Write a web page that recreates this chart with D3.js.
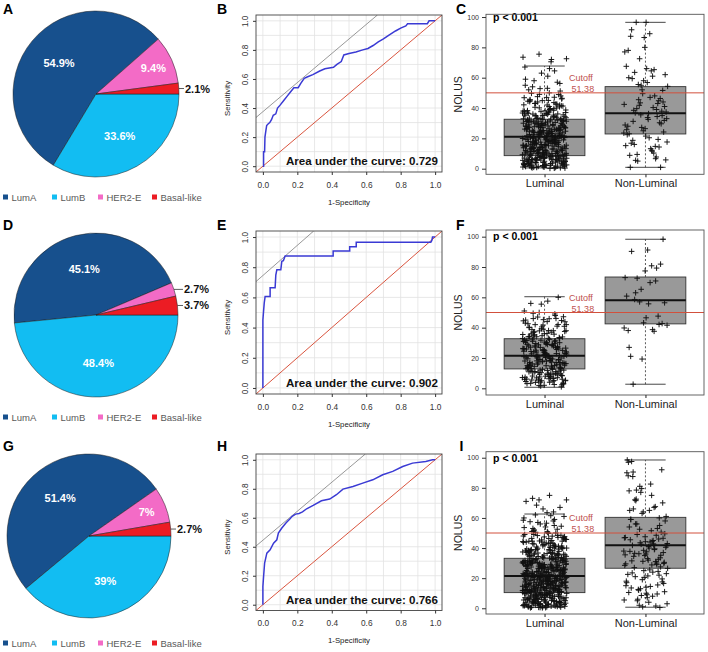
<!DOCTYPE html>
<html><head><meta charset="utf-8">
<script src="https://cdn.jsdelivr.net/npm/d3@7/dist/d3.min.js"></script>
<style>html,body{margin:0;padding:0;background:#fff;}svg{display:block;}</style>
</head><body>
<svg id="fig" width="708" height="652"></svg>
<script>
// ================= DATA =================
const categories = ["LumA", "LumB", "HER2-E", "Basal-like"];
const pieA = [54.9, 33.6, 9.4, 2.1];
const pieD = [45.1, 48.4, 2.7, 3.7];
const pieG = [51.4, 39, 7, 2.7];

const rocTicks = [0, 0.2, 0.4, 0.6, 0.8, 1.0];
const rocB = [[0,0],[0.004,0],[0.004,0.1],[0.01,0.1],[0.012,0.2],[0.018,0.25],[0.022,0.28],[0.03,0.29],[0.04,0.3],[0.05,0.32],[0.06,0.35],[0.075,0.36],[0.085,0.4],[0.1,0.42],[0.12,0.45],[0.14,0.48],[0.16,0.51],[0.18,0.54],[0.205,0.54],[0.22,0.57],[0.24,0.605],[0.26,0.615],[0.29,0.63],[0.33,0.655],[0.36,0.67],[0.41,0.68],[0.43,0.7],[0.455,0.72],[0.47,0.765],[0.5,0.775],[0.54,0.785],[0.58,0.8],[0.61,0.81],[0.64,0.83],[0.67,0.855],[0.7,0.875],[0.73,0.9],[0.77,0.93],[0.8,0.95],[0.83,0.965],[0.84,0.98],[0.955,0.98],[0.965,1],[1,1]];
const rocE = [[0,0],[0,0.45],[0.004,0.51],[0.008,0.565],[0.013,0.606],[0.042,0.606],[0.042,0.664],[0.071,0.664],[0.075,0.748],[0.081,0.783],[0.104,0.783],[0.11,0.84],[0.119,0.844],[0.129,0.874],[0.408,0.874],[0.408,0.908],[0.504,0.908],[0.504,0.936],[0.542,0.936],[0.542,0.966],[0.975,0.966],[0.981,0.977],[0.985,1],[1,1]];
const rocH = [[0,0],[0,0.126],[0.004,0.195],[0.01,0.287],[0.023,0.356],[0.042,0.379],[0.062,0.425],[0.081,0.448],[0.09,0.494],[0.11,0.529],[0.135,0.565],[0.155,0.59],[0.17,0.61],[0.19,0.625],[0.21,0.63],[0.23,0.64],[0.254,0.662],[0.292,0.685],[0.34,0.717],[0.388,0.729],[0.427,0.759],[0.465,0.798],[0.523,0.816],[0.58,0.839],[0.638,0.862],[0.696,0.897],[0.754,0.92],[0.812,0.954],[0.869,0.977],[0.946,0.989],[0.985,1],[1,1]];
const aucValues = ["0.729", "0.902", "0.766"];
const tangentIntercepts = [0.375, 0.745, 0.445];

const groups = ["Luminal", "Non-Luminal"];
const nolusTicks = [0, 20, 40, 60, 80, 100];
const cutoffLabel = "51.38";
const cutoffLineValue = 50;
const pValueText = "p < 0.001";

// box stats: [lower whisker, Q1, median, Q3, upper whisker]
const boxC_Luminal = [0.5, 8.6, 21.1, 32.6, 67.7];
const boxC_NonLuminal = [0.9, 22.9, 36.5, 54.1, 96.5];
const boxF_Luminal = [0.7, 12.8, 21.4, 32.7, 60.4];
const boxF_NonLuminal = [2.7, 42.5, 58, 73.4, 98.3];
const boxI_Luminal = [0.7, 10.4, 21.4, 33.2, 62.6];
const boxI_NonLuminal = [0.7, 26.6, 41.8, 60.4, 98.5];

const ptsC_Luminal = [3,17,28,9,41,0.5,22,35,12,6,30,19,47,2,25,14,38,8,21,33,
1,11,26,44,5,18,31,7,23,36,13,4,29,16,52,10,24,2.5,39,20,
6.5,27,15,34,0.8,21.5,42,9.5,32,17.5,3.5,25.5,11.5,46,7.5,19.5,30.5,1.5,37,23.5,
13.5,4.5,28.5,55,8.5,16.5,35.5,2,22.5,40,12.5,5.5,31.5,18,48,10.5,26.5,0.3,33.5,20.5,
61,3,14.5,29.5,7,24.5,43,9,19,36.5,1.2,27.5,15.5,50,6,22,32.5,11,38.5,17,
4,25,13,57,8,30,2.2,21,41.5,16,5,34.5,10,27,45,1,23,14,67,19,
6.8,31,12,3.8,26,49,9.2,18.5,36,0.6,24,15,39.5,7.2,28,53,11.2,20,33,2.8,
72,16.8,5.2,29,44.5,8.2,22.8,13.2,37.5,1.8,26.8,10.2,59,17.8,4.2,31.8,21.2,7.8,42.5,14.2,
73.5,3.2,24.2,12.8,35.2,6.2,19.2,47.5,0.4,28.2,9.8,15.8,63,2.4,23.2,40.5,11.8,30.2,5.8,18.2,
75.5,72.5,66,54,8.8,25.2,4.8,34.2,16.2,1.6,21.8,45.5,10.8,27.2,13.8,70.5,58,3.6,20.8,32.2,
0.7,12.3,24.7,36.9,5.1,18.4,29.8,9.7,21.9,43.1,2.9,15.3,27.1,33.9,7.3,19.9,39.1,11.3,25.9,4.1,
31.1,14.9,22.3,1.9,35.8,8.7,17.3,28.7,46.8,6.3,23.9,13.7,38.2,3.3,20.3,30.9,10.1,26.3,16.1,41.9,
2.1,27.9,12.9,34.7,7.9,19.1,44.2,5.3,24.9,15.1,32.7,0.9,21.3,9.3,37.3,17.1,29.3,4.7,22.7,13.1,
48.9,8.1,26.1,16.7,35.1,3.1,20.1,30.7,11.7,40.1,6.9,24.1,14.1,51.2,1.3,28.1,18.7,33.1,9.1,23.1,
15.7,36.1,5.7,42.1,19.7,27.7,12.1,2.7,31.7,22.1,10.7,38.7,17.7,6.1,25.1,44.9,14.7,29.1,3.9,20.7,
8.3,33.3,16.3,24.3,1.1,39.7,13.3,28.3,6.7,21.7,47.1,11.9,34.3,18.3,4.3,26.7,15.9,37.9,9.9,30.1,
23.7,2.3,17.9,42.7,12.7,31.3,7.1,25.3,56.2,14.3,19.3,35.3,5.9,27.3,10.3,45.1,1.7,22.3,32.9,16.9,
13.9,29.9,4.9,38.3,20.9,9.1,26.9,15.1,49.7,7.7,24.7,34.9,3.7,18.9,41.3,11.1,28.9,6.1,21.1,36.7,
0.2,17.2,32.4,10.4,25.6,43.6,5.6,14.4,30.8,20.4,8.4,37.6,2.6,23.4,16.4,46.4,12.4,27.6,4.4,19.6,
33.6,9.6,22.4,40.8,13.6,1.4,28.4,18.4,6.4,36.4,24.4,11.4,52.8,15.6,3.4,31.4,21.4,7.4,26.4,64.5];
const ptsC_NonLuminal = [36.3,91.6,14.3,52,28.8,61,5.5,44,96.5,23,39,72.5,17.6,47,31.2,0.9,58,25.7,65.3,9.4,
41,33.7,87.3,19.3,55,42.4,12.2,63.5,35,26.4,78,6.6,45.5,37.4,20.4,59.4,30.3,49.5,15.2,40.3,
96.5,24.2,66,8.8,34.4,43.4,54.3,13.2,38.5,29.6,86.5,22.4,48,5,62,32.5,16.8,44.8,27.2,77,
11.6,36.8,51.6,21.5,60,7.7,41.8,33,89,18.7,46.3,25,67.5,10.3,39.6,31.8,56.8,0.9,43,35.5,
23.5,64.5,16,37.9,80,28,14.7,55.5,5.8];
const ptsF_Luminal = [14,27,6,38,21,11,33,18,45,9,24,3,30,16,41,12,26,7,35,20,
2,29,15,47,23,10,36,19,5,32,13,42,25,8,28,17,50,22,4,31,
13.5,39,20.5,6.5,34,16.5,44,11.5,27.5,1.5,24.5,37,14.5,8.5,30.5,19.5,48,10.5,26.5,21.5,
5.5,33.5,17.5,43,12.5,29.5,3.5,22.5,40,15.5,7.5,35.5,18.5,46,9.5,25.5,31.5,2.5,20,37.5,
57.5,56,60,55.5,51,14,28,6,23,34,11,19,42,8,32,16,25,4.5,38,21,
12,30,17,7,27,44.5,10,24,1,36,15,49,22,5,33,13,26,40.5,18,29,
3.9,16.9,29.3,10.9,22.9,37.9,7.1,19.7,33.1,13.9,45.3,25.9,5.1,18.1,40.9,11.7,27.1,8.9,31.7,20.9,
14.7,35.3,2.3,23.7,42.6,9.7,28.7,16.3,6.3,38.7,21.7,12.3,30.3,4.7,25.1,47.2,17.9,34.1,10.1,19.1,
26.3,7.9,36.9,13.1,22.1,3.1,31.1,15.9,43.9,9.1,24.3,18.7,39.3,5.9,28.3,11.1,33.9,20.3,14.1,46.1,
1.9,23.3,32.3,8.1,17.1,41.7,12.9,27.9,6.9,21.1,36.1,15.1,26.9,4.1,30.9,19.9,10.7,44.7,24.9,13.3,
29.7,16.7,5.3,38.1,22.7,11.3,34.7,7.3,19.3,27.3,2.9,14.9,40.3,25.7,9.3,32.9,18.3,49.5,12.1,23.9,
6.1,35.7,20.7,15.3,28.9,3.3,42.1,10.3,26.1,17.3,37.3,8.3,22.3,13.7,31.3,4.9,24.1,45.9,16.1,30.1];
const ptsF_NonLuminal = [55.7,90.3,42.1,19.3,73,38.7,63,98.3,46.5,27,79.3,57,41.6,69.7,2.7,81.9,
43.2,60.8,37.6,72.6,56.4,91.2,21.1,47.6,65.3,39.8,80.8,58.6,42.7,77.4,38.1,70.8];
const ptsI_Luminal = [2,15,28,7,39,21,11,34,4,25,17,46,9,31,13,0.5,23,37,6,19,
29,12,42,3,26,16,35,8,22,49,14,5,32,18,1,27,10,40,20,30,
7.5,24,44,13.5,33,2.5,19.5,38,11.5,28.5,5.5,22.5,52,15.5,9.5,35.5,1.5,26.5,17.5,43,
31.5,4.5,21.5,12.5,36.5,8.5,47,24.5,16.5,3.5,29.5,10.5,40.5,20.5,0.8,33.5,14.5,55,6.5,25.5,
18.5,38.5,9,27.5,2.2,45,13,30.5,6,21,50,16,34.5,11,24,4,41.5,19,58,8,
26,14,32,1.2,22,48,10,36,17,5,29,12,57,20,3,39,15,27,7,33,
62,23,11.8,44.5,2.8,18.2,30.2,8.2,53,25.2,13.8,37.2,5.2,21.2,46.5,16.2,0.3,28.2,10.2,60,
34.2,19.2,6.8,42.2,24.2,13.2,3.2,31.2,15.2,51,22.2,9.2,38.2,17.2,4.2,27.2,56.5,11.2,35.2,20.2,
1.8,29.2,14.2,48.5,7.2,23.2,59,12.2,32.2,2.4,18.8,41.2,26.2,9.8,36.8,5.8,21.8,54,15.8,30.8,
72,72,75,73,67,66,71,64,68.5,61,63.5,57.5,25.8,8.8,43.8,17.8,3.8,33.8,12.8,28.8,
19.8,6.2,45.8,23.8,11.6,37.8,1.4,30.6,16.6,50.5,21.6,9.6,34.6,4.6,26.6,14.6,40.6,7.6,31.6,18.6,
2.6,24.6,13.6,47.6,20.6,8.6,35.6,15.6,53.6,27.6,5.6,39.6,22.6,10.6,32.6,0.6,29.6,17.6,44.6,12.6,
0.9,13.9,26.7,8.9,35.9,18.9,4.9,30.9,22.9,11.9,43.9,16.9,2.9,28.9,20.9,7.9,39.9,14.9,25.9,10.9,
33.9,5.9,19.9,47.9,12.9,24.9,1.9,37.9,17.9,29.9,9.9,21.9,42.9,3.9,27.9,15.9,32.9,6.9,23.9,50.9,
11.3,36.3,19.3,2.3,26.3,14.3,41.3,8.3,31.3,21.3,4.3,17.3,46.3,12.3,28.3,0.3,23.3,38.3,9.3,33.3,
16.3,6.3,29.3,20.3,44.3,13.3,3.3,25.3,35.3,10.3,18.3,48.3,1.3,27.3,15.3,39.3,7.3,22.3,32.3,11.3,
24.7,4.7,37.7,14.7,21.7,45.7,9.7,30.7,1.7,17.7,27.7,12.7,40.7,6.7,23.7,34.7,19.7,2.7,29.7,15.7,
42.7,10.7,26.7,5.7,20.7,36.7,13.7,49.7,0.7,24.7,16.7,31.7,8.7,38.7,22.7,3.7,28.7,18.7,44.7,11.7,
7.1,33.1,21.1,14.1,25.1,2.1,39.1,17.1,9.1,30.1,47.1,12.1,22.1,5.1,36.1,19.1,27.1,1.1,41.1,15.1,
29.1,10.1,23.1,4.1,34.1,18.1,43.1,8.1,26.1,13.1,37.1,20.1,3.1,31.1,16.1,51.5,11.1,24.1,6.1,40.1,
19.4,35.4,2.4,27.4,12.4,45.4,22.4,7.4,31.4,16.4,0.4,38.4,25.4,9.4,20.4,33.4,4.4,14.4,42.4,28.4,
11.4,24.4,5.4,36.4,18.4,48.4,13.4,30.4,1.4,22.4,40.4,8.4,26.4,15.4,34.4,3.4,21.4,46.4,10.4,29.4,
17.4,6.4,32.4,23.4,43.4,12.4,27.4,2.4,37.4,19.4,9.4,25.4,14.4,39.4,4.4,30.4,21.4,50.4,7.4,35.4,
16.9,1.6,28.6,11.6,44.6,20.6,6.6,33.6,24.6,13.6,38.6,3.6,18.6,26.6,9.6,41.6,15.6,31.6,0.9,22.6,
52.5,56,58.5,61.5,49,54.5,47.4,12,36,24,5,18,30,8,44,15,27,2,40,20];
const ptsI_NonLuminal = [41,97.5,22,63,35.5,8,56,46.5,14,78,30,52.5,3,44,90.5,27.5,38.5,17,67,49,
11,33,59,24.5,42.5,5.5,75,36.5,19.5,47.5,88,31,12,61,40,23.5,55,1,29.5,45,
72.5,16.5,37.5,65,9.5,43.5,26.5,82.5,34.5,50.5,20.5,98.5,39.5,6,58,32,13.5,46,79.5,28.5,
44.5,21,70,36,10.5,48.5,2,41.5,25.5,87.5,33.5,64,18,42,56,30.5,7,45.5,15.5,77,
38,51.5,27,92,35,22.5,67.5,12.5,40.5,4,31.5,60,19,47,24,71.5,37,10,54,29,
81,43,14.5,66,35.2,25,90,39,5,49.5,21.5,59,32.5,8.5,46.8,28.8,72,17.5,44.2,97,
1.5,36.2,23,65,41.8,0.5,31.2,15,42.8,78.5,29.8,9,37.8,53,13];

// ================= STYLE / LAYOUT =================
const FONT = "'Liberation Sans', Arial, Helvetica, sans-serif";
const pieColors = ["#17508d", "#12bdf2", "#f36bc6", "#ec1c24"];
const pieClockwiseOrder = ["LumB", "LumA", "HER2-E", "Basal-like"];
const legendX = [3, 52, 98, 152];

const rows = [
  { letters: ["A","B","C"], letterY: 14, letterX: [3, 217, 456],
    pie: pieA, pc: [96, 94], pr: 83, legendY: 197,
    roc: rocB, auc: aucValues[0], tan: tangentIntercepts[0], rocTop: 15, rocBottom: 172,
    boxTop: 14.3, boxBottom: 174.3, boxDomain: [-3.7, 101.8],
    stats: [boxC_Luminal, boxC_NonLuminal], pts: [ptsC_Luminal, ptsC_NonLuminal] },
  { letters: ["D","E","F"], letterY: 230, letterX: [3, 217, 456],
    pie: pieD, pc: [96, 315], pr: 82, legendY: 417,
    roc: rocE, auc: aucValues[1], tan: tangentIntercepts[1], rocTop: 231, rocBottom: 394,
    boxTop: 230, boxBottom: 395, boxDomain: [-4.4, 104.4],
    stats: [boxF_Luminal, boxF_NonLuminal], pts: [ptsF_Luminal, ptsF_NonLuminal] },
  { letters: ["G","H","I"], letterY: 451, letterX: [3, 217, 459.5],
    pie: pieG, pc: [89, 536], pr: 82, legendY: 643,
    roc: rocH, auc: aucValues[2], tan: tangentIntercepts[2], rocTop: 454, rocBottom: 610.5,
    boxTop: 451.7, boxBottom: 614, boxDomain: [-3.8, 104],
    stats: [boxI_Luminal, boxI_NonLuminal], pts: [ptsI_Luminal, ptsI_NonLuminal] }
];

const svg = d3.select("#fig");

function letter(t, x, y) {
  svg.append("text").attr("x", x).attr("y", y).attr("font-family", FONT)
    .attr("font-weight", "bold").attr("font-size", 14).attr("fill", "#000").text(t);
}

function drawPie(row) {
  const [cx, cy] = row.pc, r = row.pr;
  const g = svg.append("g").attr("transform", `translate(${cx},${cy})`);
  const data = categories.map((c, i) => ({ name: c, value: row.pie[i], color: pieColors[i] }));
  const pie = d3.pie().value(d => d.value)
    .sort((a, b) => pieClockwiseOrder.indexOf(a.name) - pieClockwiseOrder.indexOf(b.name))
    .startAngle(Math.PI / 2).endAngle(Math.PI / 2 + 2 * Math.PI);
  const arcs = pie(data);
  const arc = d3.arc().innerRadius(0).outerRadius(r);
  g.selectAll("path.slice").data(arcs).join("path").attr("class", "slice")
    .attr("d", arc).attr("fill", d => d.data.color).attr("stroke", "#1e1e1e").attr("stroke-width", 0.5);
  arcs.forEach(a => {
    const mid = (a.startAngle + a.endAngle) / 2;
    const label = a.data.value + "%";
    if (a.data.value >= 5) {
      const rr = r * (a.data.value > 20 ? 0.58 : 0.76);
      g.append("text").attr("x", rr * Math.sin(mid)).attr("y", -rr * Math.cos(mid))
        .attr("text-anchor", "middle").attr("dominant-baseline", "central")
        .attr("font-family", FONT).attr("font-weight", "bold").attr("font-size", 11)
        .attr("fill", "#fff").text(label);
    } else {
      const px = r * Math.sin(mid), py = -r * Math.cos(mid);
      g.append("line").attr("x1", px).attr("y1", py).attr("x2", r + 5).attr("y2", py)
        .attr("stroke", "#333").attr("stroke-width", 0.8);
      g.append("text").attr("x", r + 6).attr("y", py).attr("dominant-baseline", "central")
        .attr("font-family", FONT).attr("font-weight", "bold").attr("font-size", 11)
        .attr("fill", "#111").text(label);
    }
  });
  categories.forEach((c, i) => {
    const lx = legendX[i];
    svg.append("rect").attr("x", lx).attr("y", row.legendY - 2.5).attr("width", 5).attr("height", 5)
      .attr("fill", pieColors[i]);
    svg.append("text").attr("x", lx + 8.5).attr("y", row.legendY).attr("dominant-baseline", "central")
      .attr("font-family", FONT).attr("font-size", 9.5).attr("fill", "#595959").text(c);
  });
}

function drawRoc(row, idx) {
  const L = 256, R = 442, T = row.rocTop, B = row.rocBottom;
  const x = d3.scaleLinear().domain([-0.04, 1.04]).range([L, R]);
  const y = d3.scaleLinear().domain([-0.04, 1.04]).range([B, T]);
  const g = svg.append("g");
  const clipId = "rocclip" + idx;
  g.append("clipPath").attr("id", clipId).append("rect")
    .attr("x", L).attr("y", T).attr("width", R - L).attr("height", B - T);
  const grid = d3.range(0, 11).map(k => k / 10);
  g.selectAll("line.gv").data(grid).join("line").attr("class", "gv")
    .attr("x1", d => x(d)).attr("x2", d => x(d)).attr("y1", T).attr("y2", B)
    .attr("stroke", "#e2e2e2").attr("stroke-width", 0.8);
  g.selectAll("line.gh").data(grid).join("line").attr("class", "gh")
    .attr("y1", d => y(d)).attr("y2", d => y(d)).attr("x1", L).attr("x2", R)
    .attr("stroke", "#e2e2e2").attr("stroke-width", 0.8);
  const inner = g.append("g").attr("clip-path", `url(#${clipId})`);
  inner.append("line").attr("x1", x(-0.04)).attr("y1", y(-0.04)).attr("x2", x(1.04)).attr("y2", y(1.04))
    .attr("stroke", "#d9553f").attr("stroke-width", 1);
  const b = row.tan;
  inner.append("line").attr("x1", x(-0.04)).attr("y1", y(-0.04 + b)).attr("x2", x(1.04 - b)).attr("y2", y(1.04))
    .attr("stroke", "#8c8c8c").attr("stroke-width", 0.9);
  inner.append("path").datum(row.roc)
    .attr("d", d3.line().x(d => x(d[0])).y(d => y(d[1])))
    .attr("fill", "none").attr("stroke", "#3a3ad4").attr("stroke-width", 1.5);
  g.append("rect").attr("x", L).attr("y", T).attr("width", R - L).attr("height", B - T)
    .attr("fill", "none").attr("stroke", "#444").attr("stroke-width", 0.9);
  const xa = g.append("g").attr("transform", `translate(0,${B})`)
    .call(d3.axisBottom(x).tickValues(rocTicks).tickFormat(d3.format(".1f")).tickSize(3).tickPadding(7));
  xa.select(".domain").remove();
  xa.attr("font-family", FONT).attr("font-size", 8.3).attr("color", "#333");
  const ya = g.append("g").attr("transform", `translate(${L},0)`)
    .call(d3.axisLeft(y).tickValues(rocTicks).tickFormat(d3.format(".1f")).tickSize(3));
  ya.select(".domain").remove();
  ya.attr("font-family", FONT).attr("font-size", 8.3).attr("color", "#333");
  ya.selectAll("text").attr("x", null).attr("dy", null)
    .attr("transform", "translate(-11,0) rotate(-90)")
    .attr("text-anchor", "middle").attr("dominant-baseline", "central");
  g.append("text").attr("x", (L + R) / 2).attr("y", B + 30).attr("text-anchor", "middle")
    .attr("dominant-baseline", "central").attr("font-family", FONT).attr("font-size", 7.8)
    .attr("fill", "#222").text("1-Specificity");
  g.append("text").attr("transform", `translate(227,${(T + B) / 2 + 5}) rotate(-90)`)
    .attr("text-anchor", "middle").attr("dominant-baseline", "central")
    .attr("font-family", FONT).attr("font-size", 7.8).attr("fill", "#222").text("Sensitivity");
  g.append("text").attr("x", 438).attr("y", B - 7).attr("text-anchor", "end")
    .attr("font-family", FONT).attr("font-weight", "bold").attr("font-size", 11.6)
    .attr("fill", "#111").text("Area under the curve: " + row.auc);
}

function drawBox(row, idx) {
  const L = 486, R = 704, T = row.boxTop, B = row.boxBottom;
  const x = d3.scaleLinear().domain([0.42, 2.58]).range([L, R]);
  const y = d3.scaleLinear().domain(row.boxDomain).range([B, T]);
  const g = svg.append("g");
  row.stats.forEach((s, gi) => {
    const c = gi + 1;
    g.append("line").attr("x1", x(c)).attr("x2", x(c)).attr("y1", y(s[0])).attr("y2", y(s[1]))
      .attr("stroke", "#333").attr("stroke-width", 0.8).attr("stroke-dasharray", "2,2");
    g.append("line").attr("x1", x(c)).attr("x2", x(c)).attr("y1", y(s[3])).attr("y2", y(s[4]))
      .attr("stroke", "#333").attr("stroke-width", 0.8).attr("stroke-dasharray", "2,2");
    [s[0], s[4]].forEach(v => g.append("line").attr("x1", x(c - 0.2)).attr("x2", x(c + 0.2))
      .attr("y1", y(v)).attr("y2", y(v)).attr("stroke", "#333").attr("stroke-width", 0.9));
    g.append("rect").attr("x", x(c - 0.4)).attr("width", x(c + 0.4) - x(c - 0.4))
      .attr("y", y(s[3])).attr("height", y(s[1]) - y(s[3]))
      .attr("fill", "#999").attr("stroke", "#333").attr("stroke-width", 0.9);
    g.append("line").attr("x1", x(c - 0.4)).attr("x2", x(c + 0.4)).attr("y1", y(s[2])).attr("y2", y(s[2]))
      .attr("stroke", "#111").attr("stroke-width", 2);
  });
  const seeds = [0.13, 0.57];
  row.pts.forEach((arr, gi) => {
    const c = gi + 1;
    g.append("g").selectAll("path").data(arr).join("path")
      .attr("transform", (v, i) => {
        const u = ((i * 0.6180339887 + seeds[gi]) % 1) * 2 - 1;
        return `translate(${x(c + u * 0.22)},${y(v)})`;
      })
      .attr("d", "M-2.8,0H2.8M0,-2.8V2.8")
      .attr("stroke", "#111").attr("stroke-width", 0.95).attr("fill", "none");
  });
  g.append("line").attr("x1", L).attr("x2", R).attr("y1", y(cutoffLineValue)).attr("y2", y(cutoffLineValue))
    .attr("stroke", "#d2503c").attr("stroke-width", 1);
  g.append("text").attr("x", x(1.36)).attr("y", y(cutoffLineValue) - 15).attr("text-anchor", "middle")
    .attr("dominant-baseline", "central").attr("font-family", FONT).attr("font-size", 9)
    .attr("fill", "#c0504d").text("Cutoff");
  g.append("text").attr("x", x(1.38)).attr("y", y(cutoffLineValue) - 4).attr("text-anchor", "middle")
    .attr("dominant-baseline", "central").attr("font-family", FONT).attr("font-size", 9)
    .attr("fill", "#c0504d").text(cutoffLabel);
  g.append("text").attr("x", x(0.49)).attr("y", y(100) + 3.8)
    .attr("font-family", FONT).attr("font-weight", "bold").attr("font-size", 10.5)
    .attr("fill", "#000").text(pValueText);
  g.append("rect").attr("x", L).attr("y", T).attr("width", R - L).attr("height", B - T)
    .attr("fill", "none").attr("stroke", "#555").attr("stroke-width", 0.9);
  const ya = g.append("g").attr("transform", `translate(${L},0)`)
    .call(d3.axisLeft(y).tickValues(nolusTicks).tickSize(4).tickPadding(3));
  ya.select(".domain").remove();
  ya.attr("font-family", FONT).attr("font-size", 7).attr("color", "#333");
  const xa = g.append("g").attr("transform", `translate(0,${B})`)
    .call(d3.axisBottom(x).tickValues([1, 2]).tickFormat((d, i) => groups[i]).tickSize(3).tickPadding(2));
  xa.select(".domain").remove();
  xa.attr("font-family", FONT).attr("font-size", 11).attr("color", "#222");
  g.append("text").attr("transform", `translate(458,${(T + B) / 2}) rotate(-90)`)
    .attr("text-anchor", "middle").attr("dominant-baseline", "central")
    .attr("font-family", FONT).attr("font-size", 10.5).attr("fill", "#222").text("NOLUS");
}

rows.forEach((row, i) => {
  drawPie(row);
  drawRoc(row, i);
  drawBox(row, i);
  row.letters.forEach((t, k) => letter(t, row.letterX[k], row.letterY));
});
</script>
</body></html>
